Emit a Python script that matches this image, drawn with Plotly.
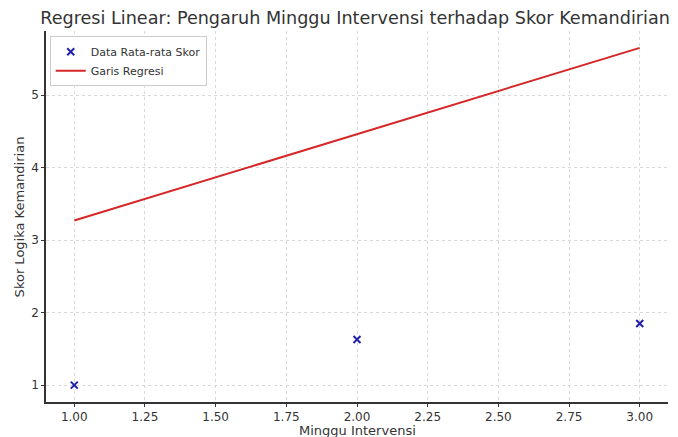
import plotly.graph_objects as go

minggu = [1, 2, 3]
skor_rata = [1.0, 1.63, 1.85]
garis_x = [1, 3]
garis_y = [3.27, 5.65]
x_ticks = [1.0, 1.25, 1.5, 1.75, 2.0, 2.25, 2.5, 2.75, 3.0]
x_labels = ["1.00", "1.25", "1.50", "1.75", "2.00", "2.25", "2.50", "2.75", "3.00"]
y_ticks = [1, 2, 3, 4, 5]

fig = go.Figure()
fig.add_trace(go.Scatter(x=minggu, y=skor_rata, mode="markers", name="Data Rata-rata Skor",
                         marker=dict(symbol="x-thin", size=7, line=dict(width=2, color="#2020a8"), color="#2020a8")))
fig.add_trace(go.Scatter(x=garis_x, y=garis_y, mode="lines", name="Garis Regresi",
                         line=dict(color="#d62728", width=2)))

axis_common = dict(showgrid=True, gridcolor="#d9d9d9", griddash="dot", gridwidth=1,
                   showline=True, linecolor="#333333", linewidth=1.5, ticks="outside",
                   ticklen=3, tickcolor="#333333", zeroline=False, automargin=False,
                   tickfont=dict(size=12, color="#333333"), mirror=False)

fig.update_layout(
    width=670, height=429,
    paper_bgcolor="white", plot_bgcolor="white",
    font=dict(family="DejaVu Sans", color="#333333"),
    margin=dict(l=38, r=10, t=23, b=35),
    title=dict(text="Regresi Linear: Pengaruh Minggu Intervensi terhadap Skor Kemandirian",
               x=0.518, xanchor="center", y=0.978, yanchor="middle", font=dict(size=17.6, color="#333333")),
    xaxis=dict(range=[0.9, 3.1], tickvals=x_ticks, ticktext=x_labels, **axis_common),
    yaxis=dict(range=[0.7675, 5.8825], tickvals=y_ticks, **axis_common),
    legend=dict(x=0.006, y=0.986, xanchor="left", yanchor="top", bgcolor="white",
                bordercolor="#cccccc", borderwidth=1, font=dict(size=11, color="#333333")),
    annotations=[
        dict(text="Minggu Intervensi", xref="paper", yref="paper", x=0.5, y=-0.076,
             xanchor="center", yanchor="middle", showarrow=False, font=dict(size=13, color="#333333")),
        dict(text="Skor Logika Kemandirian", xref="paper", yref="paper", x=-0.042, y=0.5,
             xanchor="center", yanchor="middle", textangle=-90, showarrow=False,
             font=dict(size=13, color="#333333")),
    ],
)

fig.write_html("out.html")
